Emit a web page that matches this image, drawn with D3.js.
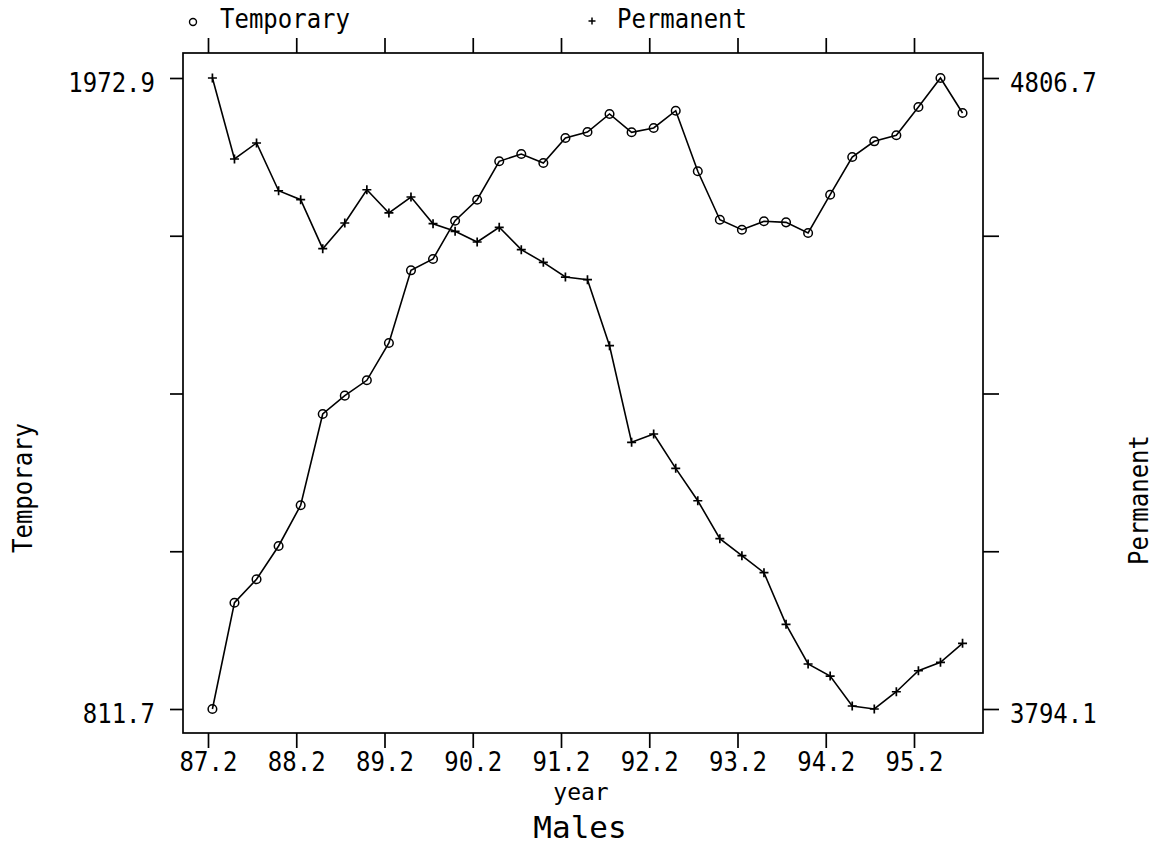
<!DOCTYPE html>
<html>
<head>
<meta charset="utf-8">
<script src="https://cdn.jsdelivr.net/npm/d3@7"></script>
<style>
  body { margin: 0; background: #fff; }
  text { font-family: "DejaVu Sans Mono", monospace; fill: #000; }
</style>
</head>
<body>
<div id="chart-container"></div>
<script>
// data (quarterly, males)
let quarters = [87.25, 87.5, 87.75, 88.0, 88.25, 88.5, 88.75, 89.0, 89.25, 89.5, 89.75, 90.0,
  90.25, 90.5, 90.75, 91.0, 91.25, 91.5, 91.75, 92.0, 92.25, 92.5, 92.75, 93.0,
  93.25, 93.5, 93.75, 94.0, 94.25, 94.5, 94.75, 95.0, 95.25, 95.5, 95.75];
let temporary = [811.7, 1007.3, 1050.4, 1111.7, 1186.6, 1354.6, 1388.3, 1416.6, 1485.2, 1619.0, 1639.8, 1710.3,
  1748.9, 1819.6, 1833.0, 1816.5, 1862.5, 1873.5, 1906.7, 1873.0, 1880.9, 1912.7, 1801.2, 1712.1,
  1693.7, 1709.2, 1707.3, 1687.7, 1758.1, 1827.5, 1856.4, 1867.5, 1919.5, 1972.9, 1908.5];
let permanent = [4806.7, 4676.7, 4702.4, 4625.8, 4611.4, 4532.8, 4574.0, 4627.4, 4590.1, 4615.7, 4572.9, 4560.7,
  4543.5, 4567.1, 4531.2, 4510.9, 4487.3, 4483.0, 4377.1, 4222.1, 4235.4, 4180.3, 4128.3, 4067.4,
  4040.1, 4012.8, 3930.0, 3866.3, 3847.0, 3798.9, 3794.1, 3821.8, 3855.5, 3869.0, 3899.5];
let xTicks = [87.2, 88.2, 89.2, 90.2, 91.2, 92.2, 93.2, 94.2, 95.2];
let tempTicks = [811.7, 1102.0, 1392.3, 1682.6, 1972.9];
let permTicks = [3794.1, 4047.25, 4300.4, 4553.55, 4806.7];

// layout
let w = 1158, h = 847;
let plotL = 183, plotR = 983, plotT = 53, plotB = 733;
let sy = 1.12; // stretch text a bit taller, like the plotter font

let svg = d3.select("#chart-container")
  .append("svg")
  .attr("width", w)
  .attr("height", h)
  .attr("viewBox", "0 0 " + w + " " + h);

let x = d3.scaleLinear().domain([87.2, 95.2]).range([208, 914]);
let yTemp = d3.scaleLinear().domain([811.7, 1972.9]).range([709, 78]);
let yPerm = d3.scaleLinear().domain([3794.1, 4806.7]).range([709, 78]);

let endsOnly = (d, i) => (i === 0 || i === 4) ? d.toFixed(1) : "";

// axes
let axBottom = svg.append("g")
  .attr("transform", "translate(0," + plotB + ")")
  .call(d3.axisBottom(x).tickValues(xTicks).tickSize(15).tickPadding(4).tickFormat(d3.format(".1f")));
let axTop = svg.append("g")
  .attr("transform", "translate(0," + plotT + ")")
  .call(d3.axisTop(x).tickValues(xTicks).tickSize(15).tickFormat(""));
let axLeft = svg.append("g")
  .attr("transform", "translate(" + plotL + ",0)")
  .call(d3.axisLeft(yTemp).tickValues(tempTicks).tickSize(13).tickPadding(15).tickFormat(endsOnly));
let axRight = svg.append("g")
  .attr("transform", "translate(" + plotR + ",0)")
  .call(d3.axisRight(yPerm).tickValues(permTicks).tickSize(16).tickPadding(11).tickFormat(endsOnly));

[axBottom, axTop, axLeft, axRight].forEach(a => {
  a.select(".domain").remove();
  a.selectAll("line").attr("stroke", "#000").attr("stroke-width", 1.7);
  a.selectAll("text")
    .style("font-family", "DejaVu Sans Mono, monospace")
    .style("font-size", "24px")
    .attr("fill", "#000")
    .attr("y", function () { return (+this.getAttribute("y") || 0) / sy; })
    .attr("transform", "scale(1," + sy + ")");
});
axLeft.selectAll("text").attr("dy", "0.5em");
axRight.selectAll("text").attr("dy", "0.5em");

// frame
svg.append("rect")
  .attr("x", plotL)
  .attr("y", plotT)
  .attr("width", plotR - plotL)
  .attr("height", plotB - plotT)
  .attr("fill", "none")
  .attr("stroke", "#000")
  .attr("stroke-width", 1.7);

// lines
let tempLine = d3.line().x((d, i) => x(quarters[i])).y(d => yTemp(d));
let permLine = d3.line().x((d, i) => x(quarters[i])).y(d => yPerm(d));

svg.append("path")
  .datum(temporary)
  .attr("d", tempLine)
  .attr("fill", "none")
  .attr("stroke", "#000")
  .attr("stroke-width", 1.6);
svg.append("path")
  .datum(permanent)
  .attr("d", permLine)
  .attr("fill", "none")
  .attr("stroke", "#000")
  .attr("stroke-width", 1.6);

// markers
svg.append("g").selectAll("circle").data(temporary).join("circle")
  .attr("cx", (d, i) => x(quarters[i]))
  .attr("cy", d => yTemp(d))
  .attr("r", 4.3)
  .attr("fill", "none")
  .attr("stroke", "#000")
  .attr("stroke-width", 1.5);

let plus = "M-4.5,0H4.5M0,-4.5V4.5";
svg.append("g").selectAll("path").data(permanent).join("path")
  .attr("transform", (d, i) => "translate(" + x(quarters[i]) + "," + yPerm(d) + ")")
  .attr("d", plus)
  .attr("stroke", "#000")
  .attr("stroke-width", 1.7);

// text helper (optionally stretched taller)
function label(tx, ty, str, size, anchor, rot, stretch) {
  let s = stretch === undefined ? sy : stretch;
  svg.append("text")
    .attr("transform", "translate(" + tx + "," + ty + ")" + (rot ? "rotate(" + rot + ")" : "") + "scale(1," + s + ")")
    .style("text-anchor", anchor)
    .style("font-size", size + "px")
    .text(str);
}

// legend
svg.append("circle")
  .attr("cx", 193).attr("cy", 22).attr("r", 3.5)
  .attr("fill", "none").attr("stroke", "#000").attr("stroke-width", 1.4);
label(220, 28, "Temporary", 24, "start");
svg.append("path")
  .attr("transform", "translate(592,21)")
  .attr("d", "M-3.5,0H3.5M0,-3.5V3.5")
  .attr("stroke", "#000").attr("stroke-width", 1.5);
label(617, 28, "Permanent", 24, "start");

// titles
label(581, 800, "year", 23, "middle", 0, 1);
label(580, 838, "Males", 31, "middle", 0, 1);
label(32, 488, "Temporary", 24, "middle", -90);
label(1148, 500, "Permanent", 24, "middle", -90);
</script>
</body>
</html>
